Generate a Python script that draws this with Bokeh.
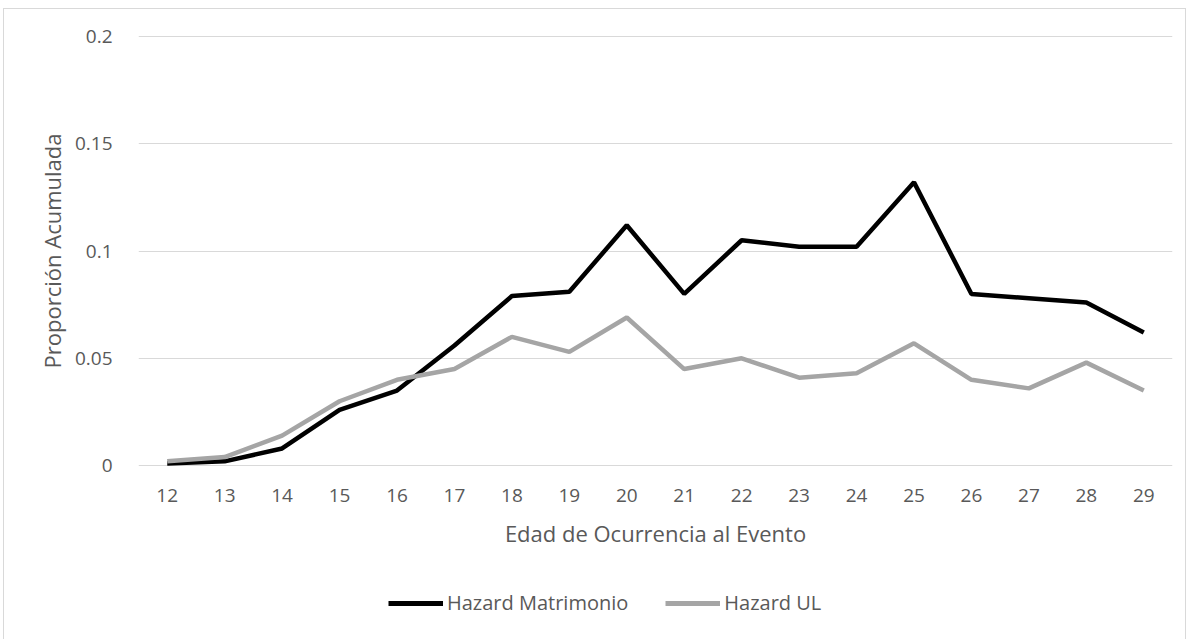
from bokeh.plotting import figure
from bokeh.layouts import column
from bokeh.models import FactorRange, Range1d, FixedTicker, Legend, LegendItem, ColumnDataSource
from bokeh.embed import file_html
from bokeh.resources import INLINE

edades = [str(a) for a in range(12, 30)]
hazard_matrimonio = [0.001, 0.002, 0.008, 0.026, 0.035, 0.056, 0.079, 0.081, 0.112, 0.080,
                     0.105, 0.102, 0.102, 0.132, 0.080, 0.078, 0.076, 0.062]
hazard_ul = [0.002, 0.004, 0.014, 0.030, 0.040, 0.045, 0.060, 0.053, 0.069, 0.045,
             0.050, 0.041, 0.043, 0.057, 0.040, 0.036, 0.048, 0.035]
y_ticks = [0, 0.05, 0.1, 0.15, 0.2]
y_labels = ["0", "0.05", "0.1", "0.15", "0.2"]
series_names = ["Hazard Matrimonio", "Hazard UL"]
series_colors = ["black", "#A5A5A5"]

FONT = "Open Sans"
TXT = "#595959"

src = ColumnDataSource(dict(x=edades, m=hazard_matrimonio, u=hazard_ul))

p = figure(width=1181, height=551, x_range=FactorRange(*edades, range_padding=0),
           y_range=Range1d(-0.0004, 0.2004), output_backend="svg", toolbar_location=None,
           min_border_left=134, min_border_right=13, min_border_top=26, min_border_bottom=94)
p.outline_line_color = None
p.xgrid.grid_line_color = None
p.ygrid.grid_line_color = "#d9d9d9"
p.ygrid.grid_line_width = 1.2
p.yaxis.ticker = FixedTicker(ticks=y_ticks)
p.yaxis.major_label_overrides = {t: l for t, l in zip(y_ticks, y_labels)}

for ax in (p.xaxis[0], p.yaxis[0]):
    ax.axis_line_color = None
    ax.major_tick_line_color = None
    ax.minor_tick_line_color = None
    ax.major_label_text_font = FONT
    ax.major_label_text_font_size = "19px"
    ax.major_label_text_color = TXT
    ax.axis_label_text_font = FONT
    ax.axis_label_text_font_size = "22px"
    ax.axis_label_text_font_style = "normal"
    ax.axis_label_text_color = TXT

p.xaxis.axis_label = "Edad de Ocurrencia al Evento"
p.yaxis.axis_label = "Proporción Acumulada"
p.yaxis.major_label_standoff = 20
p.xaxis.major_label_standoff = 16
p.xaxis.axis_label_standoff = 13
p.yaxis.axis_label_standoff = 5

p.line("x", "m", source=src, line_color=series_colors[0], line_width=4.5)
p.line("x", "u", source=src, line_color=series_colors[1], line_width=4.5)

# legend strip
p2 = figure(width=1181, height=79, x_range=Range1d(0, 1), y_range=Range1d(0, 1),
            output_backend="svg", toolbar_location=None, x_axis_type=None, y_axis_type=None,
            min_border=0)
p2.outline_line_color = None
p2.grid.grid_line_color = None
items = []
for name, col in zip(series_names, series_colors):
    r = p2.line(x=[5, 6], y=[5, 5], line_color=col, line_width=5)
    items.append(LegendItem(label=name, renderers=[r]))
legend = Legend(items=items, orientation="horizontal", location=(250, 23),
                glyph_width=55, glyph_height=20, label_standoff=4, spacing=37, padding=0,
                label_text_font=FONT, label_text_font_size="20px", label_text_color=TXT,
                border_line_color=None, background_fill_alpha=0)
p2.add_layout(legend, "center")

layout = column(p, p2, spacing=0,
                styles={"border": "1px solid #d9d9d9", "margin-top": "8px", "margin-left": "3px"})

open("out.html", "w").write(file_html(layout, INLINE))
